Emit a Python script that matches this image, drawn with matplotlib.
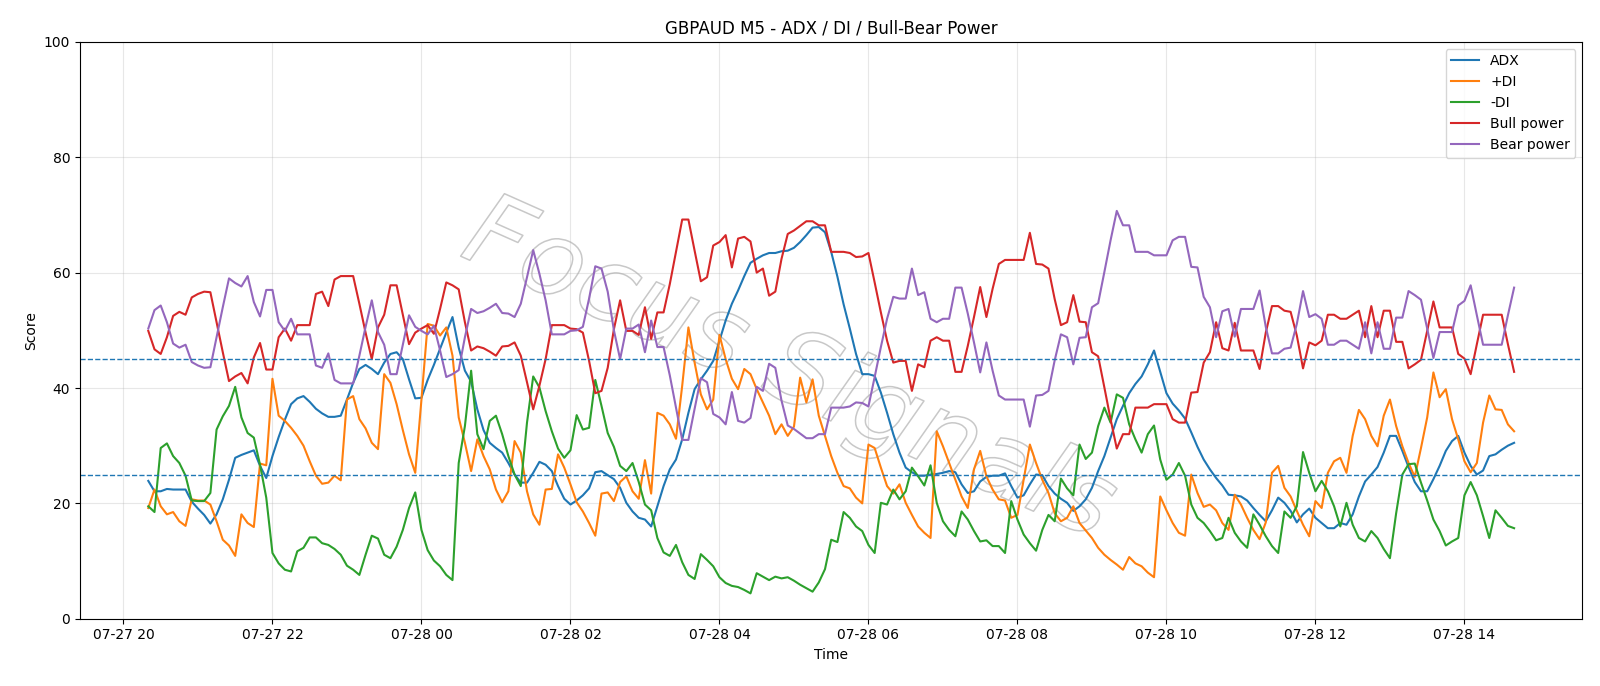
import numpy as np
import pandas as pd
import matplotlib
matplotlib.use("Agg")
import matplotlib.pyplot as plt
import matplotlib.dates as mdates
import matplotlib.patheffects as pe

START = "2020-07-27 20:20"

ADX = [
    23.9, 22.1, 22.1, 22.5, 22.4, 22.4, 22.4, 20.3, 19.1, 18.0,
    16.5, 18.1, 20.7, 24.1, 27.9, 28.4, 28.8, 29.2, 26.5, 24.4,
    28.2, 31.5, 34.5, 37.2, 38.2, 38.6, 37.6, 36.4, 35.6, 35.0,
    35.0, 35.2, 38.0, 40.9, 43.3, 44.0, 43.3, 42.4, 44.4, 45.9,
    46.2, 45.0, 41.5, 38.2, 38.3, 41.4, 44.0, 46.8, 49.6, 52.3,
    47.0, 43.0, 41.1, 36.3, 32.7, 30.5, 29.6, 28.8, 27.0, 25.0,
    23.6, 23.6, 25.3, 27.2, 26.7, 25.6, 23.0, 20.8, 19.8, 20.5,
    21.4, 22.6, 25.4, 25.6, 24.9, 24.2, 22.7, 20.1, 18.6, 17.5,
    17.2, 16.0, 19.5, 23.0, 25.9, 27.6, 31.1, 35.7, 39.8, 41.5,
    43.0, 44.7, 48.2, 51.7, 54.6, 56.9, 59.4, 61.7, 62.4, 63.0,
    63.4, 63.4, 63.7, 63.8, 64.3, 65.3, 66.5, 67.8, 67.9, 67.0,
    63.6, 59.3, 54.5, 50.3, 45.9, 42.4, 42.4, 42.1, 39.2, 35.7,
    32.0, 28.8, 26.2, 25.4, 24.8, 24.8, 25.0, 25.1, 25.3, 25.6,
    25.4, 23.3, 21.8, 22.1, 23.8, 24.6, 24.8, 24.8, 25.2, 23.0,
    21.0, 21.4, 23.3, 25.0, 24.9, 23.0, 21.7, 20.8, 20.1, 18.7,
    19.5, 20.7, 22.7, 25.6, 28.2, 31.4, 34.6, 36.9, 39.1, 40.7,
    42.0, 44.1, 46.5, 42.8, 39.1, 37.3, 36.1, 34.7, 32.3, 29.8,
    27.6, 25.9, 24.4, 23.1, 21.5, 21.4, 21.2, 20.5, 19.2, 18.0,
    16.9, 18.8, 21.0, 20.1, 18.7, 16.7, 18.1, 19.1, 17.5, 16.6,
    15.7, 15.7, 16.6, 16.3, 18.1, 21.2, 23.8, 25.0, 26.3, 28.8,
    31.7, 31.7, 29.1, 26.3, 23.7, 22.1, 22.1, 24.2, 26.5, 29.1,
    30.8, 31.7, 28.8, 26.5, 25.0, 25.7, 28.2, 28.5, 29.3, 30.0,
    30.5,
]

PLUS_DI = [
    19.2, 22.4, 19.5, 18.1, 18.5, 16.9, 16.1, 20.7, 20.5, 20.5,
    19.8, 16.9, 13.7, 12.7, 10.9, 18.1, 16.6, 15.9, 26.9, 26.6,
    41.6, 35.2, 34.3, 33.1, 31.7, 30.0, 27.3, 24.8, 23.4, 23.6,
    24.8, 24.0, 38.0, 38.6, 34.6, 33.0, 30.5, 29.4, 42.4, 40.9,
    37.2, 32.7, 28.5, 25.3, 38.0, 51.1, 50.8, 49.1, 50.5, 45.6,
    34.9, 30.5, 25.6, 31.1, 28.2, 25.9, 22.4, 20.2, 22.1, 30.8,
    28.8, 22.1, 18.1, 16.3, 22.4, 22.5, 28.5, 26.2, 23.3, 20.2,
    18.6, 16.6, 14.4, 21.7, 21.9, 20.4, 23.7, 24.7, 22.1, 20.8,
    27.5, 21.7, 35.7, 35.2, 33.7, 31.2, 40.4, 50.5, 44.4, 38.9,
    36.3, 38.0, 49.2, 45.0, 41.6, 39.8, 43.3, 42.4, 39.8, 37.5,
    35.2, 32.0, 33.7, 31.7, 33.3, 41.8, 37.5, 41.5, 35.2, 31.7,
    28.2, 25.3, 23.0, 22.6, 21.0, 20.0, 30.2, 29.6, 26.2, 23.0,
    21.7, 23.3, 20.1, 18.0, 16.0, 14.9, 14.0, 32.5, 29.9, 27.0,
    24.1, 21.2, 19.2, 25.9, 29.1, 24.7, 22.4, 20.7, 20.5, 17.5,
    18.0, 24.1, 30.2, 27.0, 24.1, 21.8, 18.3, 16.9, 17.5, 19.5,
    16.6, 15.3, 14.0, 12.3, 11.1, 10.2, 9.4, 8.5, 10.7, 9.6,
    9.1, 8.0, 7.2, 21.2, 18.8, 16.6, 14.9, 14.4, 25.0, 21.8,
    19.4, 19.8, 18.8, 16.6, 15.4, 21.5, 19.8, 17.5, 15.4, 13.8,
    16.7, 25.3, 26.5, 22.7, 21.2, 18.7, 16.3, 14.3, 20.4, 19.2,
    25.3, 27.3, 27.9, 25.3, 31.7, 36.2, 34.6, 31.7, 29.9, 35.2,
    38.0, 33.4, 29.9, 27.0, 24.6, 29.6, 34.9, 42.7, 38.4, 39.8,
    34.6, 31.1, 27.3, 25.4, 27.0, 34.0, 38.7, 36.3, 36.2, 33.7,
    32.5,
]

MINUS_DI = [
    19.5, 18.5, 29.6, 30.4, 28.2, 27.0, 24.8, 20.5, 20.4, 20.4,
    21.8, 32.8, 35.1, 36.9, 40.2, 34.9, 32.2, 31.4, 26.7, 21.0,
    11.4, 9.6, 8.5, 8.2, 11.7, 12.3, 14.1, 14.1, 13.1, 12.8,
    12.1, 11.1, 9.2, 8.5, 7.6, 11.1, 14.4, 13.9, 11.1, 10.5,
    12.5, 15.4, 19.2, 21.9, 15.4, 11.9, 10.1, 9.1, 7.6, 6.7,
    27.0, 33.4, 43.0, 32.0, 29.4, 34.3, 35.2, 32.0, 28.2, 25.0,
    23.0, 34.0, 42.0, 40.1, 36.0, 32.5, 29.5, 27.9, 29.2, 35.3,
    32.8, 33.1, 41.4, 36.9, 32.2, 29.8, 26.5, 25.6, 27.0, 23.7,
    19.8, 18.8, 14.0, 11.5, 10.9, 12.8, 9.8, 7.6, 6.9, 11.2,
    10.2, 9.1, 7.2, 6.2, 5.7, 5.5, 5.0, 4.4, 7.9, 7.3,
    6.7, 7.3, 7.0, 7.2, 6.6, 5.9, 5.3, 4.7, 6.3, 8.6,
    13.7, 13.3, 18.5, 17.5, 16.0, 15.2, 12.8, 11.4, 20.1, 19.8,
    22.4, 20.7, 22.1, 26.2, 24.7, 23.1, 26.6, 20.1, 16.9, 15.4,
    14.3, 18.6, 17.2, 15.2, 13.4, 13.6, 12.6, 12.6, 11.4, 20.4,
    17.2, 14.6, 13.1, 11.8, 15.4, 18.0, 16.9, 24.3, 22.6, 21.4,
    30.2, 27.7, 28.8, 33.4, 36.6, 34.0, 38.9, 38.3, 33.7, 31.1,
    28.8, 32.0, 33.5, 27.6, 24.1, 25.0, 27.0, 24.8, 19.8, 17.5,
    16.6, 15.2, 13.6, 14.0, 17.5, 14.9, 13.4, 12.3, 18.1, 16.3,
    14.3, 12.6, 11.4, 18.6, 17.5, 19.5, 28.9, 25.3, 22.1, 23.9,
    22.1, 19.5, 16.0, 20.1, 16.3, 14.0, 13.4, 15.2, 14.0, 12.1,
    10.5, 18.3, 25.0, 26.8, 26.9, 23.6, 20.5, 17.2, 15.2, 12.7,
    13.4, 14.0, 21.4, 23.7, 21.4, 17.8, 14.0, 18.8, 17.5, 16.1,
    15.7,
]

BULL = [
    49.9, 46.7, 45.9, 48.8, 52.5, 53.2, 52.7, 55.7, 56.3, 56.7,
    56.6, 51.4, 46.2, 41.2, 42.0, 42.6, 40.8, 45.3, 47.8, 43.2,
    43.2, 48.8, 50.3, 48.2, 50.9, 50.9, 50.9, 56.3, 56.7, 54.2,
    58.8, 59.4, 59.4, 59.4, 54.6, 49.6, 45.0, 50.5, 52.7, 57.8,
    57.8, 52.7, 47.6, 49.6, 50.3, 50.9, 49.4, 53.7, 58.3, 57.8,
    57.1, 51.4, 46.5, 47.2, 46.9, 46.3, 45.6, 47.2, 47.3, 47.9,
    45.6, 41.0, 36.3, 40.4, 45.0, 50.9, 50.9, 50.9, 50.3, 50.2,
    49.6, 44.7, 39.1, 39.5, 43.5, 50.2, 55.2, 49.9, 49.9, 49.2,
    54.0, 48.5, 53.1, 53.1, 58.0, 63.6, 69.2, 69.2, 63.8, 58.5,
    59.2, 64.7, 65.3, 66.5, 60.9, 65.9, 66.2, 65.4, 60.0, 60.7,
    56.0, 56.7, 62.4, 66.7, 67.3, 68.1, 68.9, 68.9, 68.2, 68.2,
    63.6, 63.6, 63.6, 63.4, 62.7, 62.8, 63.4, 58.3, 53.1, 48.2,
    44.4, 44.7, 44.7, 39.5, 44.1, 43.6, 48.2, 48.8, 48.2, 48.2,
    42.8, 42.8, 47.3, 52.3, 57.5, 52.3, 57.2, 61.5, 62.2, 62.2,
    62.2, 62.2, 66.9, 61.5, 61.4, 60.7, 55.4, 50.9, 51.4, 56.1,
    51.5, 51.4, 46.2, 45.5, 40.1, 34.6, 29.5, 32.0, 32.0, 36.6,
    36.6, 36.6, 37.2, 37.2, 37.2, 34.6, 34.0, 34.0, 39.2, 39.3,
    44.4, 46.2, 51.4, 46.9, 46.5, 51.3, 46.5, 46.5, 46.5, 43.3,
    49.6, 54.2, 54.2, 53.4, 53.2, 49.1, 43.4, 47.9, 47.4, 48.2,
    52.7, 52.7, 52.0, 52.0, 52.7, 53.4, 48.8, 54.2, 48.8, 53.4,
    53.4, 48.0, 48.0, 43.4, 44.1, 44.9, 49.9, 55.0, 50.5, 50.5,
    50.5, 45.9, 45.1, 42.4, 47.6, 52.7, 52.7, 52.7, 52.7, 47.6,
    42.8,
]

BEAR = [
    50.3, 53.5, 54.3, 51.4, 47.7, 47.0, 47.5, 44.5, 43.9, 43.5,
    43.6, 48.8, 54.0, 59.0, 58.2, 57.6, 59.4, 54.9, 52.4, 57.0,
    57.0, 51.4, 49.9, 52.0, 49.3, 49.3, 49.3, 43.9, 43.5, 46.0,
    41.4, 40.8, 40.8, 40.8, 45.6, 50.6, 55.2, 49.7, 47.5, 42.4,
    42.4, 47.5, 52.6, 50.6, 49.9, 49.3, 50.8, 46.5, 41.9, 42.4,
    43.1, 48.8, 53.7, 53.0, 53.3, 53.9, 54.6, 53.0, 52.9, 52.3,
    54.6, 59.2, 63.9, 59.8, 55.2, 49.3, 49.3, 49.3, 49.9, 50.0,
    50.6, 55.5, 61.1, 60.7, 56.7, 50.0, 45.0, 50.3, 50.3, 51.0,
    46.2, 51.7, 47.1, 47.1, 42.2, 36.6, 31.0, 31.0, 36.4, 41.7,
    41.0, 35.5, 34.9, 33.7, 39.3, 34.3, 34.0, 34.8, 40.2, 39.5,
    44.2, 43.5, 37.8, 33.5, 32.9, 32.1, 31.3, 31.3, 32.0, 32.0,
    36.6, 36.6, 36.6, 36.8, 37.5, 37.4, 36.8, 41.9, 47.1, 52.0,
    55.8, 55.5, 55.5, 60.7, 56.1, 56.6, 52.0, 51.4, 52.0, 52.0,
    57.4, 57.4, 52.9, 47.9, 42.7, 47.9, 43.0, 38.7, 38.0, 38.0,
    38.0, 38.0, 33.3, 38.7, 38.8, 39.5, 44.8, 49.3, 48.8, 44.1,
    48.7, 48.8, 54.0, 54.7, 60.1, 65.6, 70.7, 68.2, 68.2, 63.6,
    63.6, 63.6, 63.0, 63.0, 63.0, 65.6, 66.2, 66.2, 61.0, 60.9,
    55.8, 54.0, 48.8, 53.3, 53.7, 48.9, 53.7, 53.7, 53.7, 56.9,
    50.6, 46.0, 46.0, 46.8, 47.0, 51.1, 56.8, 52.3, 52.8, 52.0,
    47.5, 47.5, 48.2, 48.2, 47.5, 46.8, 51.4, 46.0, 51.4, 46.8,
    46.8, 52.2, 52.2, 56.8, 56.1, 55.3, 50.3, 45.2, 49.7, 49.7,
    49.7, 54.3, 55.1, 57.8, 52.6, 47.5, 47.5, 47.5, 47.5, 52.6,
    57.4,
]

SERIES = [("ADX", ADX), ("+DI", PLUS_DI), ("-DI", MINUS_DI),
          ("Bull power", BULL), ("Bear power", BEAR)]
LEVELS = [45, 25]


def main():
    n = len(ADX)
    for name, vals in SERIES:
        assert len(vals) == n, (name, len(vals), n)
    times = pd.date_range(START, periods=n, freq="5min")

    fig = plt.figure(figsize=(16, 6.86), dpi=100)
    ax = fig.add_axes([0.05, 0.098, 0.939, 0.841])

    for name, vals in SERIES:
        ax.plot(times, vals, linewidth=1.5, label=name)
    for lv in LEVELS:
        ax.axhline(lv, color="C0", linestyle="--", linewidth=1)

    # hollow watermark behind the lines
    ax.text(0.472, 0.43, "Focus Signals", transform=ax.transAxes,
            fontsize=74, fontstyle="italic", rotation=-24,
            ha="center", va="center", color=(1, 1, 1, 0), zorder=0.5,
            path_effects=[pe.Stroke(linewidth=1.1, foreground="#c8c8c8")])

    ax.set_ylim(0, 100)
    ax.set_title("GBPAUD M5 - ADX / DI / Bull-Bear Power")
    ax.set_xlabel("Time")
    ax.set_ylabel("Score")
    ax.xaxis.set_major_locator(mdates.HourLocator(byhour=range(0, 24, 2)))
    ax.xaxis.set_major_formatter(mdates.DateFormatter("%m-%d %H"))
    ax.grid(alpha=0.3)
    ax.legend(loc="upper right")

    fig.savefig("out.png", dpi=100)
    plt.close(fig)


if __name__ == "__main__":
    main()
